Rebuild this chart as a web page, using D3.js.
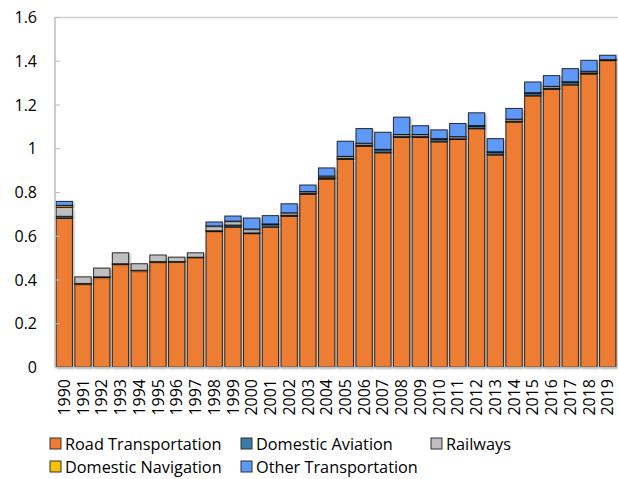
<!DOCTYPE html>
<html><head><meta charset="utf-8">
<script src="https://cdn.jsdelivr.net/npm/d3@7"></script>
<style>body{margin:0;background:#fff}svg{display:block}text{font-family:"Open Sans",sans-serif;fill:#000}</style>
</head><body><svg id="c" width="618" height="479"></svg>
<script>
const years = ["1990","1991","1992","1993","1994","1995","1996","1997","1998","1999","2000","2001","2002","2003","2004","2005","2006","2007","2008","2009","2010","2011","2012","2013","2014","2015","2016","2017","2018","2019"];
const road       = [0.68,0.38,0.41,0.47,0.44,0.48,0.48,0.50,0.62,0.64,0.61,0.64,0.69,0.79,0.86,0.95,1.01,0.98,1.05,1.05,1.03,1.04,1.09,0.97,1.12,1.24,1.27,1.29,1.34,1.40];
const aviation   = [0.009,0.002,0.002,0.002,0.002,0.002,0.002,0.002,0.003,0.009,0.003,0.012,0.003,0.004,0.005,0.003,0.003,0.013,0.003,0.003,0.012,0.003,0.012,0.012,0.003,0.012,0.003,0.012,0.004,0.003];
const railways   = [0.041,0.03,0.04,0.05,0.03,0.03,0.02,0.02,0.022,0.018,0.018,0.002,0.012,0.008,0.008,0.01,0.01,0.002,0.01,0.01,0.002,0.01,0.002,0.002,0.01,0.002,0.01,0.002,0.008,0.002];
const navigation = [0.009,0,0,0,0,0,0,0,0,0,0,0,0,0,0,0,0,0,0,0,0,0,0,0,0,0,0,0,0,0];
const other      = [0.018,0,0,0,0,0,0,0,0.018,0.023,0.05,0.038,0.041,0.03,0.037,0.069,0.067,0.078,0.079,0.04,0.04,0.06,0.058,0.06,0.049,0.049,0.049,0.06,0.05,0.02];
const seriesNames = ["Road Transportation","Domestic Aviation","Railways","Domestic Navigation","Other Transportation"];
const seriesKeys = ["road","aviation","railways","navigation","other"];
const colors = ["#ED7D31","#3A7CA5","#BFBFBF","#FFC000","#5F99F7"];
const yTicks = [0,0.2,0.4,0.6,0.8,1,1.2,1.4,1.6];

const rows = years.map((y,i)=>({year:y,road:road[i],aviation:aviation[i],railways:railways[i],navigation:navigation[i],other:other[i]}));
const svg = d3.select("#c");
const defs = svg.append("defs");
const f = defs.append("filter").attr("id","sh").attr("x","-20%").attr("y","-20%").attr("width","150%").attr("height","150%");
f.append("feDropShadow").attr("dx",1.2).attr("dy",1.2).attr("stdDeviation",0.9).attr("flood-color","#000").attr("flood-opacity",0.35);

const L=55, R=617, T=17, B=367;
const x = d3.scaleBand().domain(years).range([L,R]).paddingInner(0.13).paddingOuter(0.06);
const y = d3.scaleLinear().domain([0,1.6]).range([B,T]);

svg.append("line").attr("x1",L).attr("x2",618).attr("y1",T+0.5).attr("y2",T+0.5).attr("stroke","#D0D0D0").attr("stroke-width",1.5);

const stack = d3.stack().keys(seriesKeys)(rows);
const g = svg.append("g");
stack.forEach((layer,k)=>{
  g.append("g").selectAll("rect").data(layer).join("rect")
    .attr("x",d=>x(d.data.year)).attr("width",x.bandwidth())
    .attr("y",d=>y(d[1])).attr("height",d=>Math.max(0,y(d[0])-y(d[1])))
    .attr("fill",colors[k]).attr("stroke","#111").attr("stroke-width",1).attr("stroke-opacity",0.85)
    .attr("filter","url(#sh)")
    .style("display",d=>(d[1]-d[0])>0?null:"none");
});

const ya = svg.append("g").attr("transform",`translate(${L},0)`)
  .call(d3.axisRight(y).tickValues(yTicks).tickSize(5).tickFormat(d=>d3.format("~g")(d)));
ya.select(".domain").attr("stroke","#BDBDBD").attr("stroke-width",1.5).attr("d",`M0,${T}V${B}`);
ya.selectAll(".tick line").attr("stroke","#BDBDBD");
ya.selectAll(".tick text").attr("x",-18).attr("text-anchor","end").attr("dy","0.35em").style("font-size","16px");

svg.append("line").attr("x1",L).attr("x2",618).attr("y1",B+0.5).attr("y2",B+0.5).attr("stroke","#BDBDBD").attr("stroke-width",1.5);
const xa = svg.append("g").attr("transform",`translate(0,${B})`).call(d3.axisBottom(x).tickSize(0));
xa.select(".domain").remove();
xa.selectAll(".tick text").attr("transform","rotate(-90)").attr("text-anchor","end").attr("x",-12).attr("y",0).attr("dy","0.35em").style("font-size","16px");

const legPos = [[50,444],[241,444],[431,444],[50,467],[241,467]];
seriesNames.forEach((n,i)=>{
  const [lx,ly]=legPos[i];
  svg.append("rect").attr("x",lx).attr("y",ly-6).attr("width",11).attr("height",11).attr("fill",colors[i]).attr("stroke","#333").attr("stroke-width",1);
  svg.append("text").attr("x",lx+15).attr("y",ly).attr("dy","0.35em").style("font-size","16.3px").text(n);
});
</script></body></html>
